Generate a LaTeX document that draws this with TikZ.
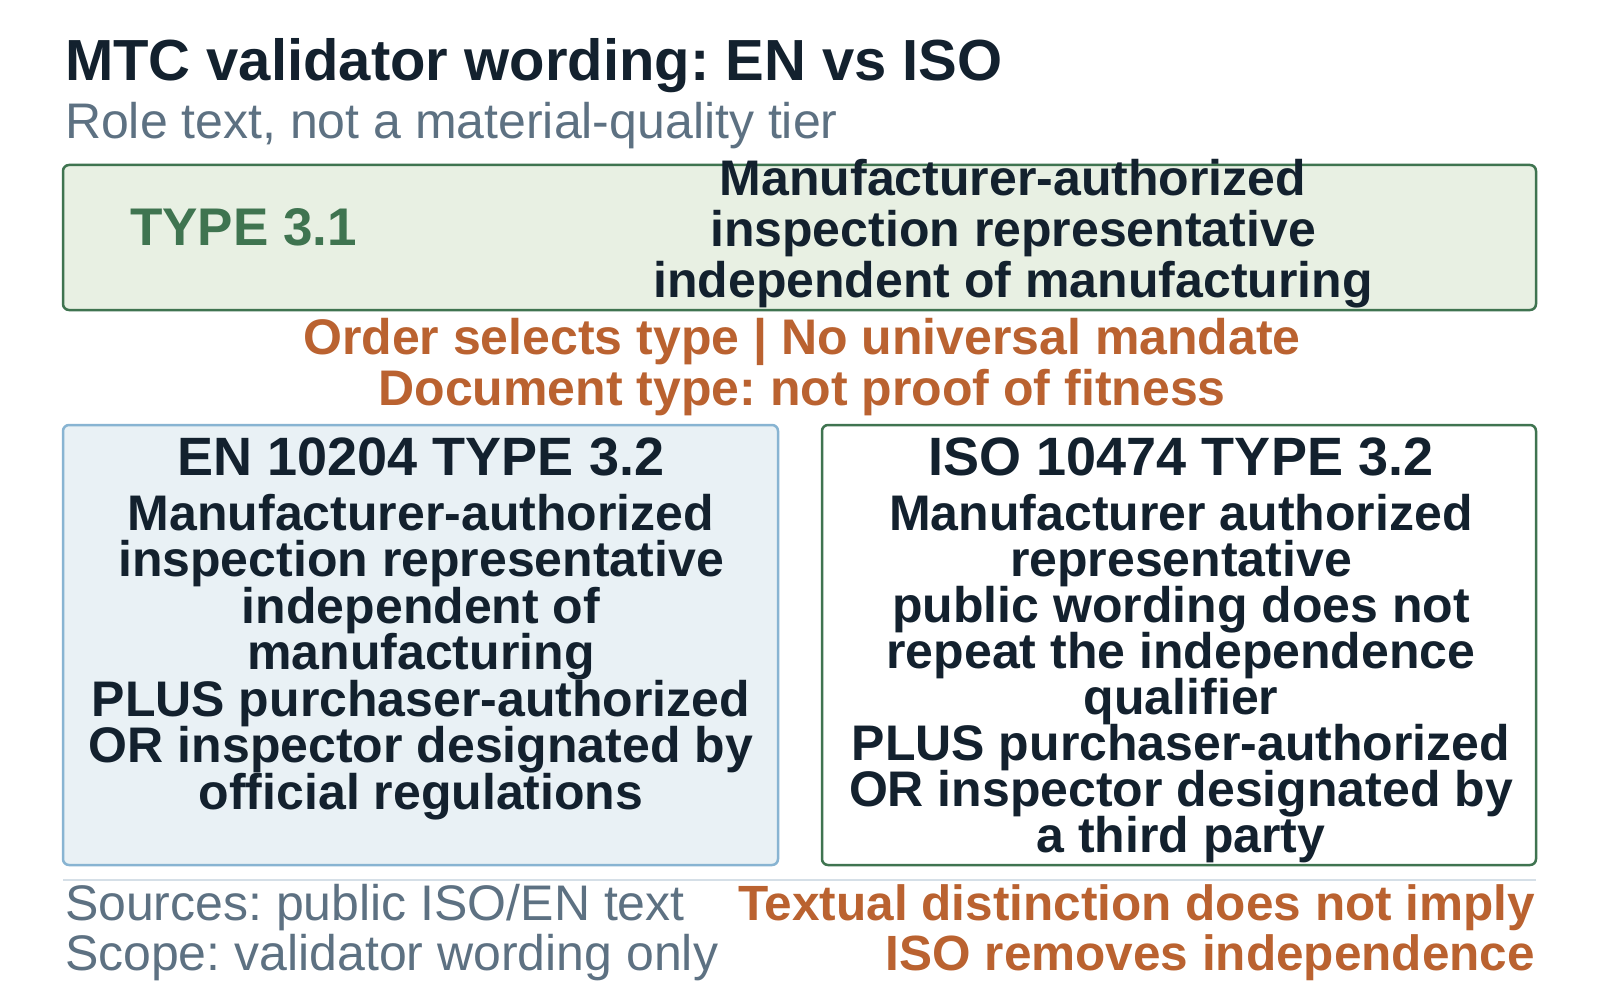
\documentclass[tikz,border=0pt]{standalone}
\usepackage{fontspec}
\setmainfont{Liberation Sans}
\frenchspacing
\definecolor{ink}{HTML}{13212E}
\definecolor{slate}{HTML}{5D7182}
\definecolor{leaf}{HTML}{3F7450}
\definecolor{leaffill}{HTML}{E8F0E3}
\definecolor{sky}{HTML}{88B4D2}
\definecolor{skyfill}{HTML}{E9F1F5}
\definecolor{rust}{HTML}{BA6230}
\definecolor{rule}{HTML}{D5DFE7}
\begin{document}
\frenchspacing
\begin{tikzpicture}[x=1pt,y=-1pt,
  txt/.style={inner sep=0pt,outer sep=0pt},
  panel/.style={inner sep=0pt,outer sep=0pt,line width=2.5pt,rounded corners=6pt,anchor=north west},
  titletext/.style={txt,anchor=base west,text=ink,font=\fontsize{58}{58}\selectfont\bfseries},
  subtext/.style={txt,anchor=base west,text=slate,font=\fontsize{50}{50}\selectfont},
  bodytext/.style={txt,anchor=base,text=ink,font=\fontsize{50}{50}\selectfont\bfseries},
  headtext/.style={txt,anchor=base,text=ink,font=\fontsize{54}{54}\selectfont\bfseries},
  notetext/.style={txt,anchor=base,text=rust,font=\fontsize{50}{50}\selectfont\bfseries},
  foottext/.style={txt,anchor=base east,text=rust,font=\fontsize{49.5}{49.5}\selectfont\bfseries}
]
\useasboundingbox (0,0) rectangle (1600,1000);
\fill[white] (0,0) rectangle (1600,1000);

% title
\node[titletext] (title) at (65,81) {MTC validator wording: EN vs ISO};
\node[subtext] (subtitle) at (65,139) {Role text, not a material-quality tier};

% top panel
\node[panel,fill=leaffill,draw=leaf,minimum width=1473pt,minimum height=145pt] (top) at (63,165) {};
\node[txt,anchor=base west,text=leaf,font=\fontsize{53}{53}\selectfont\bfseries] (t31) at (130,246) {TYPE 3.1};
\node[bodytext] (topa) at (1013,196) {Manufacturer-authorized};
\node[bodytext] (topb) at (1013,247) {inspection representative};
\node[bodytext] (topc) at (1013,298) {independent of manufacturing};

% middle notes
\node[notetext] (notea) at (802,354) {Order selects type | No universal mandate};
\node[notetext] (noteb) at (802,405) {Document type: not proof of fitness};

% lower panels
\node[panel,fill=skyfill,draw=sky,minimum width=715pt,minimum height=440pt] (en) at (63,425) {};
\node[panel,fill=white,draw=leaf,minimum width=714pt,minimum height=440pt] (iso) at (822,425) {};

\node[headtext] (enh) at (421,475) {EN 10204 TYPE 3.2};
\node[bodytext] (en1) at (421,530) {Manufacturer-authorized};
\node[bodytext] (en2) at (421,576.5) {inspection representative};
\node[bodytext] (en3) at (421,623) {independent of};
\node[bodytext] (en4) at (421,669.5) {manufacturing};
\node[bodytext] (en5) at (421,716) {PLUS purchaser-authorized};
\node[bodytext] (en6) at (421,762.5) {OR inspector designated by};
\node[bodytext] (en7) at (421,809) {official regulations};

\node[headtext] (isoh) at (1181,475) {ISO 10474 TYPE 3.2};
\node[bodytext] (iso1) at (1181,530) {Manufacturer authorized};
\node[bodytext] (iso2) at (1181,576) {representative};
\node[bodytext] (iso3) at (1181,622) {public wording does not};
\node[bodytext] (iso4) at (1181,668) {repeat the independence};
\node[bodytext] (iso5) at (1181,714) {qualifier};
\node[bodytext] (iso6) at (1181,760) {PLUS purchaser-authorized};
\node[bodytext] (iso7) at (1181,806) {OR inspector designated by};
\node[bodytext] (iso8) at (1181,852) {a third party};

% separator
\coordinate (sepl) at (63,880);
\coordinate (sepr) at (1536,880);
\draw[rule,line width=2.5pt] (sepl) -- (sepr);

% footer
\node[subtext] (srca) at (65,920) {Sources: public ISO/EN text};
\node[subtext] (srcb) at (65,970) {Scope: validator wording only};
\node[foottext] (fna) at (1535,920) {Textual distinction does not imply};
\node[foottext] (fnb) at (1535,970) {ISO removes independence};
\end{tikzpicture}
\end{document}
